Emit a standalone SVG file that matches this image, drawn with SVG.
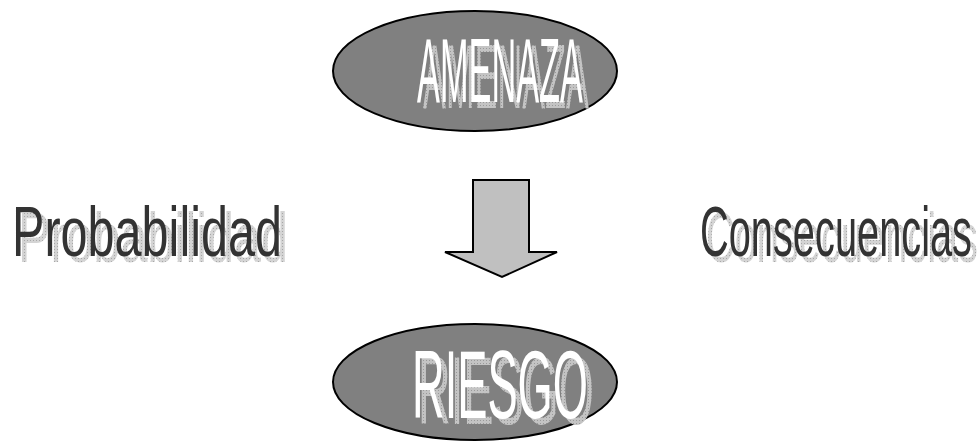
<svg xmlns="http://www.w3.org/2000/svg" width="980" height="441" viewBox="0 0 980 441">
<defs>
<pattern id="dots" width="3" height="3" patternUnits="userSpaceOnUse">
<rect width="3" height="3" fill="#d4d4d4"/>
<rect width="1" height="1" fill="#a8a8a8"/>
</pattern>
<pattern id="dots2" width="3" height="3" patternUnits="userSpaceOnUse">
<rect width="3" height="3" fill="#c4c4c4"/>
<rect width="1" height="1" fill="#9a9a9a"/>
</pattern>
</defs>
<style>
.ell{fill:#808080;stroke:#000;stroke-width:2}
.t{font-family:"Liberation Sans",Arial,sans-serif}
.big{fill:#fff}
.side{fill:#333333}
.sh1{fill:url(#dots)}
.sh2{fill:url(#dots2)}
</style>
<g id="amenaza">
<ellipse class="ell" cx="475" cy="71" rx="142" ry="60"/>
<text class="t sh2" x="423" y="108" font-size="91" textLength="166" lengthAdjust="spacingAndGlyphs">AMENAZA</text>
<text class="t big" x="417" y="102" font-size="91" textLength="166" lengthAdjust="spacingAndGlyphs">AMENAZA</text>
</g>
<g id="riesgo">
<ellipse class="ell" cx="475" cy="382" rx="142" ry="58"/>
<text class="t sh2" x="418" y="424" font-size="97" textLength="176" lengthAdjust="spacingAndGlyphs">RIESGO</text>
<text class="t big" x="412" y="418" font-size="97" textLength="176" lengthAdjust="spacingAndGlyphs">RIESGO</text>
</g>
<g id="probabilidad">
<text class="t sh1" x="18" y="262" font-size="71" textLength="270" lengthAdjust="spacingAndGlyphs">Probabilidad</text>
<text class="t side" x="12" y="256" font-size="71" textLength="270" lengthAdjust="spacingAndGlyphs">Probabilidad</text>
</g>
<g id="consecuencias">
<text class="t sh1" x="706" y="262" font-size="71" textLength="272" lengthAdjust="spacingAndGlyphs">Consecuencias</text>
<text class="t side" x="700" y="256" font-size="71" textLength="272" lengthAdjust="spacingAndGlyphs">Consecuencias</text>
</g>
<g id="connectors">
<polygon points="473,180 529,180 529,252 557,252 502,277 445,252 473,252" fill="#c0c0c0" stroke="#000" stroke-width="2" stroke-linejoin="miter"/>
</g>
</svg>
